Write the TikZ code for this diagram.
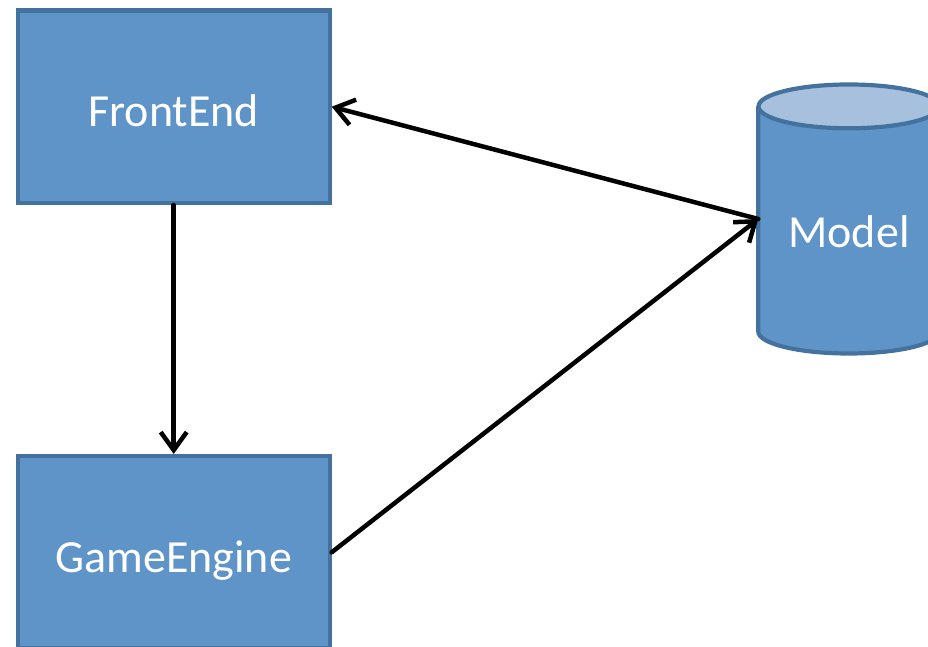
\documentclass[tikz,border=0pt]{standalone}
\usepackage{fontspec}
\setmainfont{Carlito}
\usetikzlibrary{arrows.meta,backgrounds}
\definecolor{boxfill}{RGB}{95,148,200}
\definecolor{boxline}{RGB}{68,114,158}
\definecolor{capfill}{RGB}{167,192,222}
\begin{document}
\begin{tikzpicture}[x=1pt,y=1pt,
  label font/.style={text=white, font=\fontsize{46}{55}\selectfont, inner sep=0pt, text depth=0pt},
  block/.style={rectangle, draw=boxline, fill=boxfill, line width=4.2pt,
    minimum width=311.8pt, minimum height=192.5pt, label font, text height=39.6pt},
  link/.style={line width=4.5pt, line join=round, line cap=round,
    -{Straight Barb[length=18pt,width=26pt]}}]
\useasboundingbox (0,0) rectangle (928,647);
\clip (0,0) rectangle (928,647);

% components
\node[block] (fe) at (173.7,540.3) {FrontEnd};
\node[block] (ge) at (173.7,94.7) {GameEngine};
\node[rectangle, minimum width=181pt, minimum height=224.8pt, label font, text height=58pt] (model) at (849,428) {Model};

% data store drawn as a cylinder behind its label
\begin{scope}[on background layer]
  \fill[boxfill] (model.north west) -- (model.south west)
    arc[start angle=180, end angle=360, x radius=90.5, y radius=21.9] -- (model.north east) -- cycle;
  \draw[boxline, line width=4.2pt] (model.north west) -- (model.south west)
    arc[start angle=180, end angle=360, x radius=90.5, y radius=21.9] -- (model.north east);
  \draw[boxline, fill=capfill, line width=4.2pt] (model.north) ellipse[x radius=90.5, y radius=21.9];
\end{scope}

% connections
\draw[link] (fe) -- (ge);
\draw[link] (model.west) -- (fe.east);
\draw[link] (ge.east) -- (model.west);
\end{tikzpicture}
\end{document}
